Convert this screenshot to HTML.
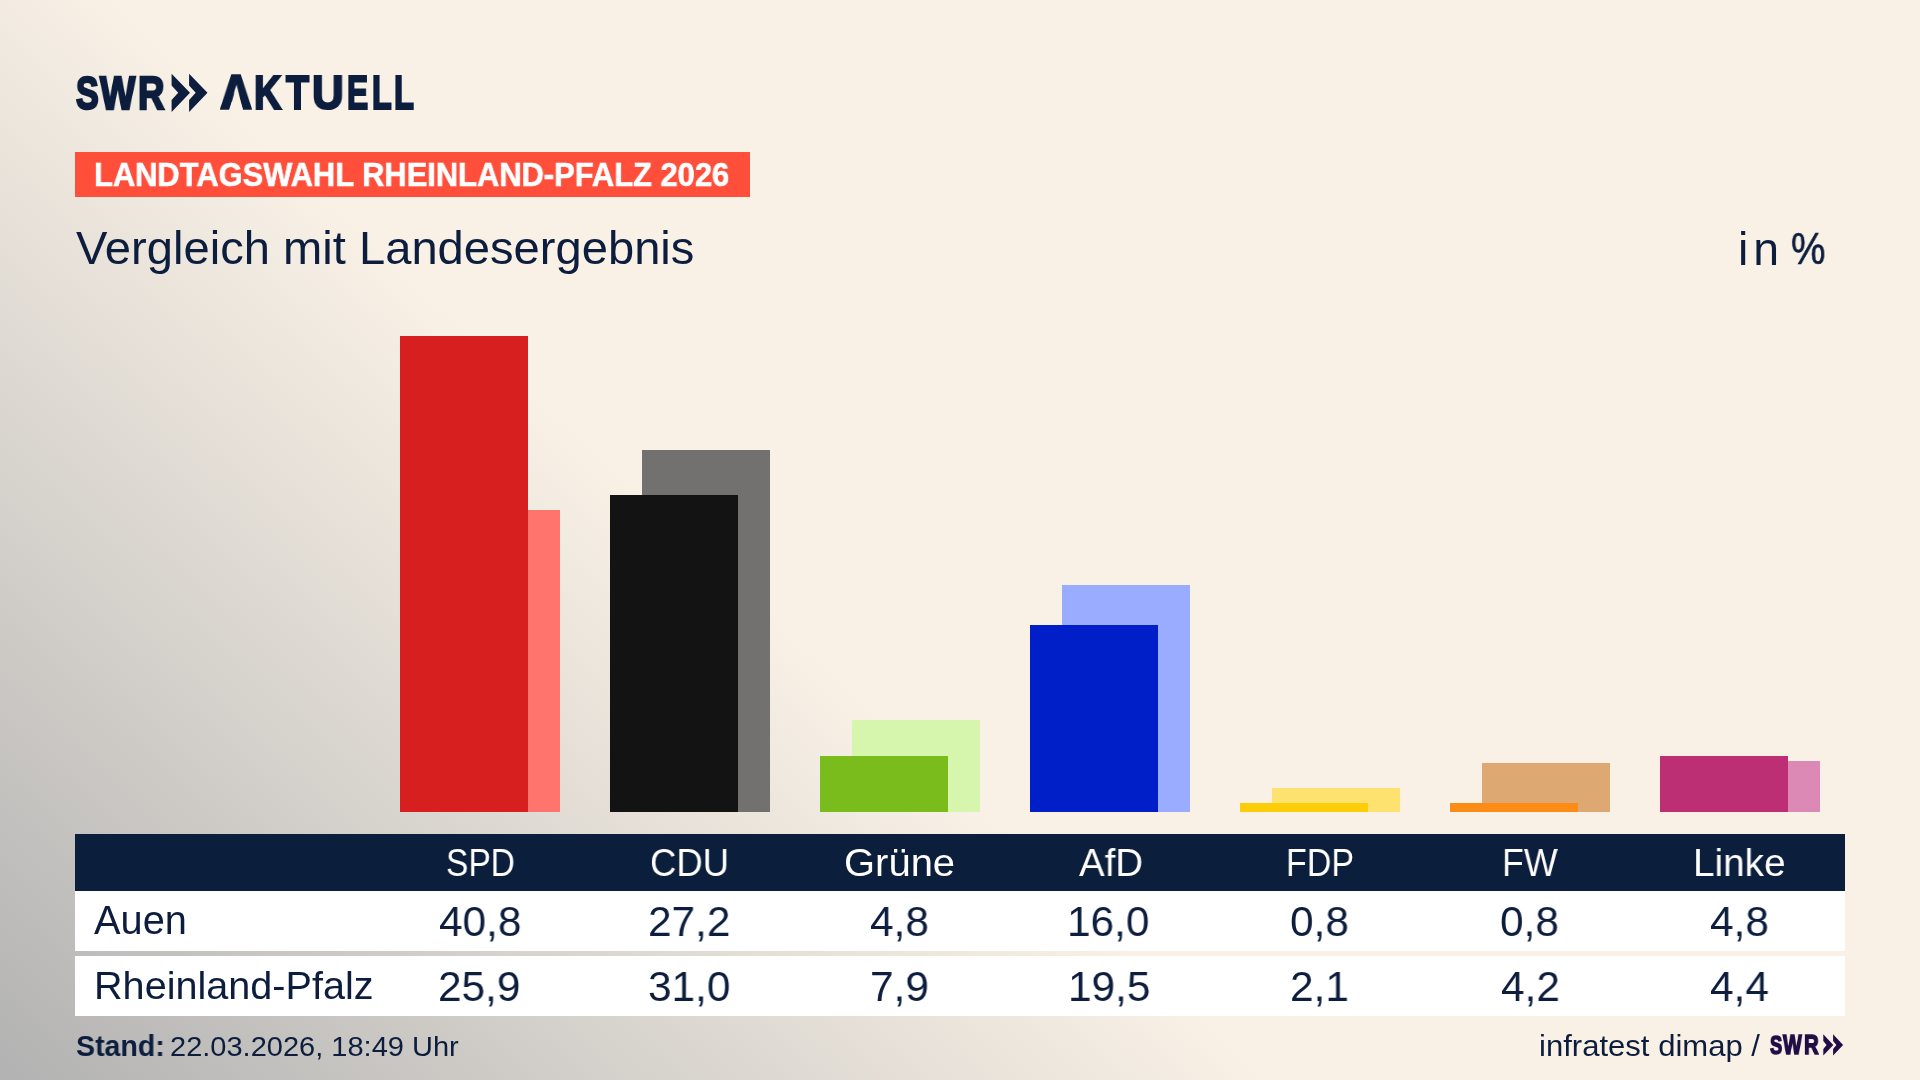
<!DOCTYPE html>
<html lang="de">
<head>
<meta charset="utf-8">
<title>Landtagswahl Rheinland-Pfalz 2026 &ndash; Vergleich mit Landesergebnis</title>
<style>
html,body{margin:0;padding:0;}
body{width:1920px;height:1080px;overflow:hidden;position:relative;
  font-family:"Liberation Sans",Arial,sans-serif;color:#0c1d3d;background:#f9f1e6;}
#bg{position:absolute;left:0;top:0;width:1920px;height:1080px;background:linear-gradient(43deg, #b2b2b2 0%, #f9f1e6 41.4%);}
.t{position:absolute;white-space:nowrap;line-height:1;transform-origin:0 0;will-change:transform;}
.bar,.box{position:absolute;}
</style>
</head>
<body>
<div id="bg"></div>

<svg class="box" style="left:0;top:0" width="1920" height="1080" viewBox="0 0 1920 1080">
<polygon fill="#0c1d3d" points="171.60,73.80 190.00,92.85 171.60,111.90 171.60,100.09 178.20,92.85 171.60,85.61"/>
<polygon fill="#0c1d3d" points="189.10,73.80 207.50,92.85 189.10,111.90 189.10,100.09 195.70,92.85 189.10,85.61"/>
<polygon fill="#200f46" points="1823.30,1034.30 1833.30,1044.95 1823.30,1055.60 1823.30,1049.00 1826.60,1044.95 1823.30,1040.90"/>
<polygon fill="#200f46" points="1833.10,1034.30 1843.10,1044.95 1833.10,1055.60 1833.10,1049.00 1836.40,1044.95 1833.10,1040.90"/>
</svg>
<div class="box" style="left:75px;top:152px;width:675px;height:45px;background:#ff4f3b;"></div>
<div class="bar" style="left:432px;top:509.83px;width:128px;height:302.17px;background:#ff756d;"></div>
<div class="bar" style="left:400px;top:336.00px;width:128px;height:476.00px;background:#d71f1f;"></div>
<div class="bar" style="left:642px;top:450.33px;width:128px;height:361.67px;background:#73716f;"></div>
<div class="bar" style="left:610px;top:494.67px;width:128px;height:317.33px;background:#131313;"></div>
<div class="bar" style="left:852px;top:719.83px;width:128px;height:92.17px;background:#d7f6ad;"></div>
<div class="bar" style="left:820px;top:756.00px;width:128px;height:56.00px;background:#79bc1c;"></div>
<div class="bar" style="left:1062px;top:584.50px;width:128px;height:227.50px;background:#9aacff;"></div>
<div class="bar" style="left:1030px;top:625.33px;width:128px;height:186.67px;background:#001fc8;"></div>
<div class="bar" style="left:1272px;top:787.50px;width:128px;height:24.50px;background:#fee26f;"></div>
<div class="bar" style="left:1240px;top:802.67px;width:128px;height:9.33px;background:#fecd0a;"></div>
<div class="bar" style="left:1482px;top:763.00px;width:128px;height:49.00px;background:#dea873;"></div>
<div class="bar" style="left:1450px;top:802.67px;width:128px;height:9.33px;background:#fd8c17;"></div>
<div class="bar" style="left:1692px;top:760.67px;width:128px;height:51.33px;background:#dc89b6;"></div>
<div class="bar" style="left:1660px;top:756.00px;width:128px;height:56.00px;background:#bd2f75;"></div>
<div class="box" style="left:75px;top:834px;width:1770px;height:57px;background:#0b1e3c;"></div>
<div class="box" style="left:75px;top:891px;width:1770px;height:60px;background:#fff;"></div>
<div class="box" style="left:75px;top:956px;width:1770px;height:60px;background:#fff;"></div>
<div class="t" id="lS" style="left:76.45px;top:70.08px;font-size:46.51px;font-weight:bold;transform:scaleX(0.7297);-webkit-text-stroke:2.4px currentColor;">S</div>
<div class="t" id="lW" style="left:100.28px;top:69.98px;font-size:46.58px;font-weight:bold;transform:scaleX(0.8037);-webkit-text-stroke:2.4px currentColor;">W</div>
<div class="t" id="lR" style="left:137.56px;top:70.25px;font-size:46.23px;font-weight:bold;transform:scaleX(0.7927);-webkit-text-stroke:2.4px currentColor;">R</div>
<div class="t" id="kA" style="left:221.02px;top:70.22px;font-size:45.77px;font-weight:bold;transform:scaleX(0.9080);clip-path:polygon(-50px -50px, 300px -50px, 300px 44.78px, 25.42px 44.78px, 17.16px 14.38px, 8.13px 44.78px, -50px 44.78px);-webkit-text-stroke:3.6px currentColor;">A</div>
<div class="t" id="kK" style="left:253.92px;top:69.48px;font-size:47.43px;font-weight:bold;transform:scaleX(0.7988);-webkit-text-stroke:2.2px currentColor;">K</div>
<div class="t" id="kT" style="left:286.36px;top:69.48px;font-size:47.43px;font-weight:bold;transform:scaleX(0.7933);-webkit-text-stroke:2.2px currentColor;">T</div>
<div class="t" id="kU" style="left:312.12px;top:69.48px;font-size:47.43px;font-weight:bold;transform:scaleX(0.9246);-webkit-text-stroke:2.2px currentColor;">U</div>
<div class="t" id="kE" style="left:346.65px;top:69.48px;font-size:47.43px;font-weight:bold;transform:scaleX(0.6670);-webkit-text-stroke:2.2px currentColor;">E</div>
<div class="t" id="kL1" style="left:372.17px;top:69.48px;font-size:47.43px;font-weight:bold;transform:scaleX(0.6792);-webkit-text-stroke:2.2px currentColor;">L</div>
<div class="t" id="kL2" style="left:393.74px;top:69.48px;font-size:47.43px;font-weight:bold;transform:scaleX(0.6903);-webkit-text-stroke:2.2px currentColor;">L</div>
<div class="t" id="sS" style="left:1769.85px;top:1033.33px;font-size:25.81px;font-weight:bold;color:#200f46;transform:scaleX(0.7078);-webkit-text-stroke:1.6px currentColor;">S</div>
<div class="t" id="sW" style="left:1782.51px;top:1032.41px;font-size:26.91px;font-weight:bold;color:#200f46;transform:scaleX(0.7377);-webkit-text-stroke:1.6px currentColor;">W</div>
<div class="t" id="sR" style="left:1804.36px;top:1032.41px;font-size:26.91px;font-weight:bold;color:#200f46;transform:scaleX(0.7561);-webkit-text-stroke:1.6px currentColor;">R</div>
<div class="t" id="ban" style="left:94.14px;top:158.25px;font-size:33.40px;font-weight:bold;color:#fff;transform:scaleX(0.9245);-webkit-text-stroke:0.6px currentColor;">LANDTAGSWAHL RHEINLAND-PFALZ 2026</div>
<div class="t" id="title" style="left:76.16px;top:224.88px;font-size:46.75px;transform:scaleX(1.0083);">Vergleich mit Landesergebnis</div>
<div class="t" id="unit1" style="left:1737.63px;top:225.60px;font-size:46.40px;letter-spacing:5.0px;">in</div>
<div class="t" id="unit2" style="left:1790.96px;top:227.07px;font-size:44.00px;transform:scaleX(0.8800);-webkit-text-stroke:0.6px currentColor;">%</div>
<div class="t" id="h0" style="left:445.91px;top:842.65px;font-size:39.20px;color:#fff;transform:scaleX(0.8546);">SPD</div>
<div class="t" id="h1" style="left:649.78px;top:842.65px;font-size:39.20px;color:#fff;transform:scaleX(0.9322);">CDU</div>
<div class="t" id="h2" style="left:844.20px;top:842.65px;font-size:39.20px;color:#fff;transform:scaleX(1.0199);">Gr&uuml;ne</div>
<div class="t" id="h3" style="left:1078.57px;top:842.80px;font-size:39.20px;color:#fff;transform:scaleX(0.9805);">AfD</div>
<div class="t" id="h4" style="left:1286.29px;top:843.34px;font-size:39.20px;color:#fff;transform:scaleX(0.8677);">FDP</div>
<div class="t" id="h5" style="left:1501.55px;top:843.34px;font-size:39.20px;color:#fff;transform:scaleX(0.9106);">FW</div>
<div class="t" id="h6" style="left:1693.18px;top:842.80px;font-size:39.20px;color:#fff;transform:scaleX(0.9877);">Linke</div>
<div class="t" id="a0" style="left:438.56px;top:899.92px;font-size:42.80px;transform:scaleX(0.9900);">40,8</div>
<div class="t" id="a1" style="left:648.48px;top:899.92px;font-size:42.80px;transform:scaleX(0.9900);">27,2</div>
<div class="t" id="a2" style="left:870.19px;top:899.92px;font-size:42.80px;transform:scaleX(0.9900);">4,8</div>
<div class="t" id="a3" style="left:1066.91px;top:899.92px;font-size:42.80px;transform:scaleX(0.9900);">16,0</div>
<div class="t" id="a4" style="left:1289.84px;top:899.92px;font-size:42.80px;transform:scaleX(0.9900);">0,8</div>
<div class="t" id="a5" style="left:1499.84px;top:899.92px;font-size:42.80px;transform:scaleX(0.9900);">0,8</div>
<div class="t" id="a6" style="left:1710.19px;top:899.92px;font-size:42.80px;transform:scaleX(0.9900);">4,8</div>
<div class="t" id="b0" style="left:438.12px;top:965.36px;font-size:42.80px;transform:scaleX(0.9900);">25,9</div>
<div class="t" id="b1" style="left:648.24px;top:965.36px;font-size:42.80px;transform:scaleX(0.9900);">31,0</div>
<div class="t" id="b2" style="left:869.91px;top:965.36px;font-size:42.80px;transform:scaleX(0.9900);">7,9</div>
<div class="t" id="b3" style="left:1067.65px;top:965.36px;font-size:42.80px;transform:scaleX(0.9900);">19,5</div>
<div class="t" id="b4" style="left:1289.86px;top:965.36px;font-size:42.80px;transform:scaleX(0.9900);">2,1</div>
<div class="t" id="b5" style="left:1500.72px;top:965.36px;font-size:42.80px;transform:scaleX(0.9900);">4,2</div>
<div class="t" id="b6" style="left:1709.67px;top:965.36px;font-size:42.80px;transform:scaleX(0.9900);">4,4</div>
<div class="t" id="auen" style="left:94.46px;top:900.63px;font-size:39.77px;transform:scaleX(0.9995);">Auen</div>
<div class="t" id="rlp" style="left:94.43px;top:965.87px;font-size:39.42px;transform:scaleX(1.0050);">Rheinland-Pfalz</div>
<div class="t" id="stand" style="left:75.63px;top:1031.91px;font-size:29.09px;font-weight:bold;transform:scaleX(0.9815);">Stand:</div>
<div class="t" id="date" style="left:169.57px;top:1031.72px;font-size:28.39px;transform:scaleX(1.0224);">22.03.2026, 18:49 Uhr</div>
<div class="t" id="infra" style="left:1538.66px;top:1031.33px;font-size:30.04px;transform:scaleX(1.0344);">infratest dimap /</div>
</body>
</html>
